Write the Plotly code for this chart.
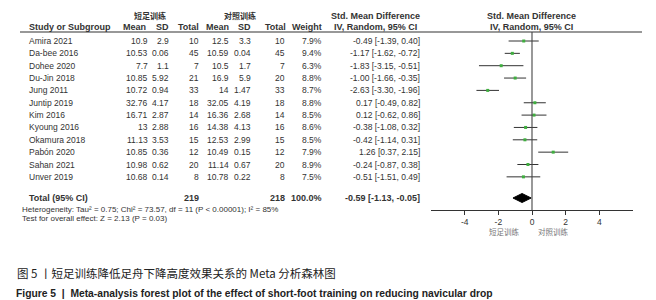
import plotly.graph_objects as go

studies = ["Amira 2021", "Da-bee 2016", "Dohee 2020", "Du-Jin 2018", "Jung 2011", "Juntip 2019",
           "Kim 2016", "Kyoung 2016", "Okamura 2018", "Pabón 2020", "Sahan 2021", "Unver 2019"]
exp_mean = [10.9, 10.53, 7.7, 10.85, 10.72, 32.76, 16.71, 13, 11.13, 10.85, 10.98, 10.68]
exp_sd = [2.9, 0.06, 1.1, 5.92, 0.94, 4.17, 2.87, 2.88, 3.53, 0.36, 0.62, 0.14]
exp_n = [10, 45, 7, 21, 33, 18, 14, 16, 15, 12, 20, 8]
ctl_mean = [12.5, 10.59, 10.5, 16.9, 14, 32.05, 16.36, 14.38, 12.53, 10.49, 11.14, 10.78]
ctl_sd = [3.3, 0.04, 1.7, 5.9, 1.47, 4.19, 2.68, 4.13, 2.99, 0.15, 0.67, 0.22]
ctl_n = [10, 45, 7, 20, 33, 18, 14, 16, 15, 12, 20, 8]
weight = [7.9, 9.4, 6.3, 8.8, 8.7, 8.8, 8.5, 8.6, 8.5, 7.9, 8.9, 7.5]
smd = [-0.49, -1.17, -1.83, -1.00, -2.63, 0.17, 0.12, -0.38, -0.42, 1.26, -0.24, -0.51]
ci_lo = [-1.39, -1.62, -3.15, -1.66, -3.30, -0.49, -0.62, -1.08, -1.14, 0.37, -0.87, -1.51]
ci_hi = [0.40, -0.72, -0.51, -0.35, -1.96, 0.82, 0.86, 0.32, 0.31, 2.15, 0.38, 0.49]
total_exp, total_ctl, total_weight = 219, 218, 100.0
pooled, pooled_lo, pooled_hi = -0.59, -1.13, -0.05
x_ticks = [-4, -2, 0, 2, 4]
het_text = "Heterogeneity: Tau² = 0.75; Chi² = 73.57, df = 11 (P < 0.00001); I² = 85%"
test_text = "Test for overall effect: Z = 2.13 (P = 0.03)"

W, H = 656, 300
FONT = "Liberation Sans, Arial, sans-serif"
CJK = "Noto Sans CJK SC, sans-serif"
TXT = "#333333"

row0, rstep = 33.0, 12.35
rows_y = [row0 + i * rstep for i in range(len(studies))]
total_y = 190
axis_y = 202
line_y = 24

fig = go.Figure()

fig.add_trace(go.Scatter(
    x=smd, y=rows_y, mode="markers",
    marker=dict(symbol="square", size=3, color="#3fae3f"),
    error_x=dict(type="data", symmetric=False,
                 array=[h - s for h, s in zip(ci_hi, smd)],
                 arrayminus=[s - l for s, l in zip(smd, ci_lo)],
                 color="#333333", thickness=1, width=0),
    showlegend=False, hoverinfo="skip"))

fig.add_trace(go.Scatter(
    x=[pooled_lo, pooled, pooled_hi, pooled, pooled_lo],
    y=[total_y, total_y - 4.5, total_y, total_y + 4.5, total_y],
    mode="lines", fill="toself", fillcolor="#000000",
    line=dict(color="#000000", width=1), showlegend=False, hoverinfo="skip"))

ann = []

def A(x, y, text, anchor="left", size=8.5, bold=False, color=TXT, family=FONT):
    if bold:
        text = "<b>" + text + "</b>"
    ann.append(dict(x=x / W, y=y, xref="paper", yref="y", text=text, showarrow=False,
                    xanchor=anchor, yanchor="middle",
                    font=dict(size=size, color=color, family=family)))

A(142, 7, "短足训练", "center", 8, True, family=CJK)
A(232, 7, "对照训练", "center", 8, True, family=CJK)
A(367, 8, "Std. Mean Difference", "center", 9, True)
A(367, 19, "IV, Random, 95% CI", "center", 9, True)
A(523, 8, "Std. Mean Difference", "center", 9, True)
A(523, 19, "IV, Random, 95% CI", "center", 9, True)

A(19, 19, "Study or Subgroup", "left", 9, True)
cols_r = [140, 163, 193, 223, 245, 280, 316]
for xr, lab in zip(cols_r, ["Mean", "SD", "Total", "Mean", "SD", "Total", "Weight"]):
    A(xr, 19, lab, "right", 9, True)

for i, s in enumerate(studies):
    y = rows_y[i]
    A(19, y, s)
    vals = [f"{exp_mean[i]:g}", f"{exp_sd[i]:g}", f"{exp_n[i]}",
            f"{ctl_mean[i]:g}", f"{ctl_sd[i]:g}", f"{ctl_n[i]}", f"{weight[i]:.1f}%"]
    for xr, v in zip([142, 163, 193, 223, 245, 279, 316], vals):
        A(xr, y, v, "right")
    A(414, y, f"{smd[i]:.2f} [{ci_lo[i]:.2f}, {ci_hi[i]:.2f}]", "right")

A(19, total_y, "Total (95% CI)", "left", 9, True)
A(193, total_y, f"{total_exp}", "right", 9, True)
A(279, total_y, f"{total_ctl}", "right", 9, True)
A(316, total_y, f"{total_weight:.1f}%", "right", 9, True)
A(414, total_y, f"{pooled:.2f} [{pooled_lo:.2f}, {pooled_hi:.2f}]", "right", 9, True)
A(12, 201.5, het_text, "left", 8)
A(12, 210.5, test_text, "left", 8)

A(497, 223, "短足训练", "center", 7.5, False, "#777777", CJK)
A(545, 223, "对照训练", "center", 7.5, False, "#777777", CJK)

A(7, 265, "图 5 丨短足训练降低足舟下降高度效果关系的 Meta 分析森林图", "left", 11.5, False, "#222222", CJK)
A(6, 285, "Figure 5  |  Meta-analysis forest plot of the effect of short-foot training on reducing navicular drop",
  "left", 10.3, True, "#222222", FONT)

shapes = [
    dict(type="line", xref="paper", yref="y", x0=12 / W, x1=634 / W, y0=line_y, y1=line_y,
         line=dict(color="#333333", width=1.2)),
    dict(type="line", xref="x", yref="y", x0=0, x1=0, y0=line_y, y1=axis_y,
         line=dict(color="#444444", width=1.1)),
]

fig.update_layout(
    width=W, height=H, margin=dict(l=0, r=0, t=0, b=0),
    paper_bgcolor="white", plot_bgcolor="rgba(0,0,0,0)",
    annotations=ann, shapes=shapes,
    xaxis=dict(domain=[423 / W, 625 / W], range=[-6, 6], anchor="free",
               position=1 - axis_y / H, showgrid=False, zeroline=False,
               showline=True, linecolor="#333333", linewidth=1.2,
               ticks="outside", ticklen=4, tickwidth=1.2, tickcolor="#333333",
               tickvals=x_ticks, ticktext=[str(t) for t in x_ticks],
               tickfont=dict(size=8.5, color=TXT, family=FONT)),
    yaxis=dict(domain=[0, 1], range=[H, 0], visible=False, showgrid=False, zeroline=False),
)

fig.write_html("out.html")
